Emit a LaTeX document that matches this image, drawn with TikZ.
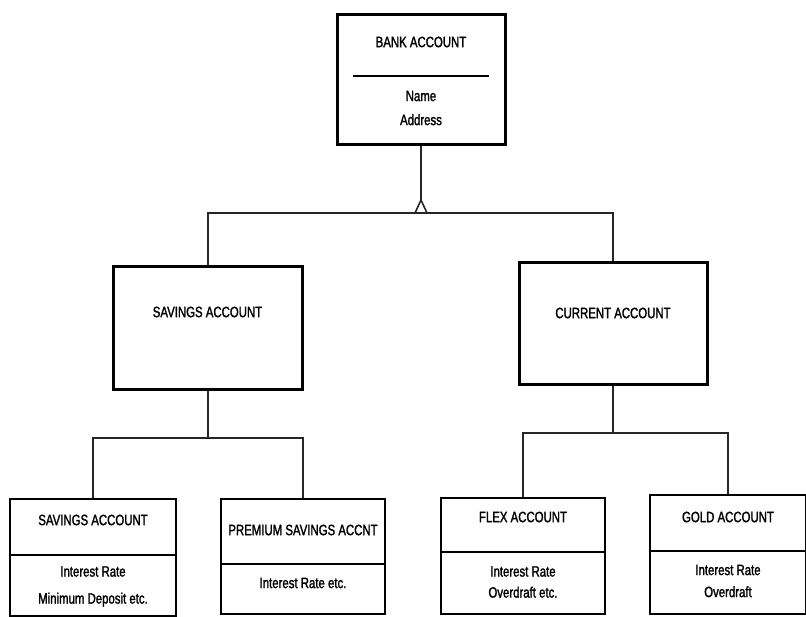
\documentclass[tikz,border=0pt]{standalone}
\usepackage{fontspec}
\setmainfont{Liberation Sans}[FakeStretch=0.76,FakeBold=1.6]
\begin{document}
\begin{tikzpicture}[x=1pt,y=-1pt,
  bigbox/.style={draw=black, line width=3pt, inner sep=0pt, fill=white},
  smallbox/.style={draw=black, line width=2.4pt, inner sep=0pt, fill=white},
  divider/.style={draw=black, line width=1.8pt},
  conn/.style={draw=black!85, line width=2pt},
  lbl/.style={font=\fontsize{15}{18}\selectfont, align=center, inner sep=0pt}
]
\useasboundingbox (0,0) rectangle (806,617);
\fill[white] (0,0) rectangle (806,617);

% top class
\node[bigbox, minimum width=168pt, minimum height=130pt] (bank) at (421,80) {};
\node[lbl] (bankt) at (421,42) {BANK ACCOUNT};
\draw[divider] (353,76) -- (489,76);
\node[lbl, font=\fontsize{15}{24}\selectfont] (banka) at (421,108) {Name\\Address};

% second level
\node[bigbox, minimum width=189pt, minimum height=123pt] (sav) at (207.5,328.5) {};
\node[lbl] (savt) at (207.5,312) {SAVINGS ACCOUNT};
\node[bigbox, minimum width=188pt, minimum height=122pt] (cur) at (613,324) {};
\node[lbl] (curt) at (613,313) {CURRENT ACCOUNT};

% connector top
\coordinate (fork) at (421,200);
\coordinate (hub) at (421,213);
\draw[conn] (bank.south) -- (fork);
\draw[conn, line width=1.6pt] (415,213) -- (fork) -- (427,213);
\draw[conn] (sav.north) -- (sav.north |- hub) -- (cur.north |- hub) -- (cur.north);

% third level boxes
\node[smallbox, minimum width=166pt, minimum height=117pt] (sa) at (93,557.5) {};
\node[smallbox, minimum width=164pt, minimum height=115pt] (pr) at (303,556.5) {};
\node[smallbox, minimum width=164pt, minimum height=116pt] (fl) at (523,556) {};
\node[smallbox, minimum width=156pt, minimum height=119pt] (gd) at (728,554.5) {};

\draw[divider] (sa.west |- 0,555) -- (sa.east |- 0,555);
\draw[divider] (pr.west |- 0,564) -- (pr.east |- 0,564);
\draw[divider] (fl.west |- 0,552) -- (fl.east |- 0,552);
\draw[divider] (gd.west |- 0,551) -- (gd.east |- 0,551);

\node[lbl] (sat) at (93,520) {SAVINGS ACCOUNT};
\node[lbl, font=\fontsize{15}{27}\selectfont] (saa) at (93,586.5) {Interest Rate\\Minimum Deposit etc.};
\node[lbl] (prt) at (303,530) {PREMIUM SAVINGS ACCNT};
\node[lbl] (pra) at (303,583) {Interest Rate etc.};
\node[lbl] (flt) at (523,517) {FLEX ACCOUNT};
\node[lbl, font=\fontsize{15}{21}\selectfont] (fla) at (523,582) {Interest Rate\\Overdraft etc.};
\node[lbl] (gdt) at (728,517) {GOLD ACCOUNT};
\node[lbl, font=\fontsize{15}{22}\selectfont] (gda) at (728,581) {Interest Rate\\Overdraft};

% connectors lower
\coordinate (hubl) at (207.5,438);
\coordinate (hubr) at (613,433);
\draw[conn] (sav.south) -- (hubl);
\draw[conn] (sa.north) -- (sa.north |- hubl) -- (pr.north |- hubl) -- (pr.north);
\draw[conn] (cur.south) -- (cur.south |- hubr);
\draw[conn] (fl.north) -- (fl.north |- hubr) -- (gd.north |- hubr) -- (gd.north);
\end{tikzpicture}
\end{document}
